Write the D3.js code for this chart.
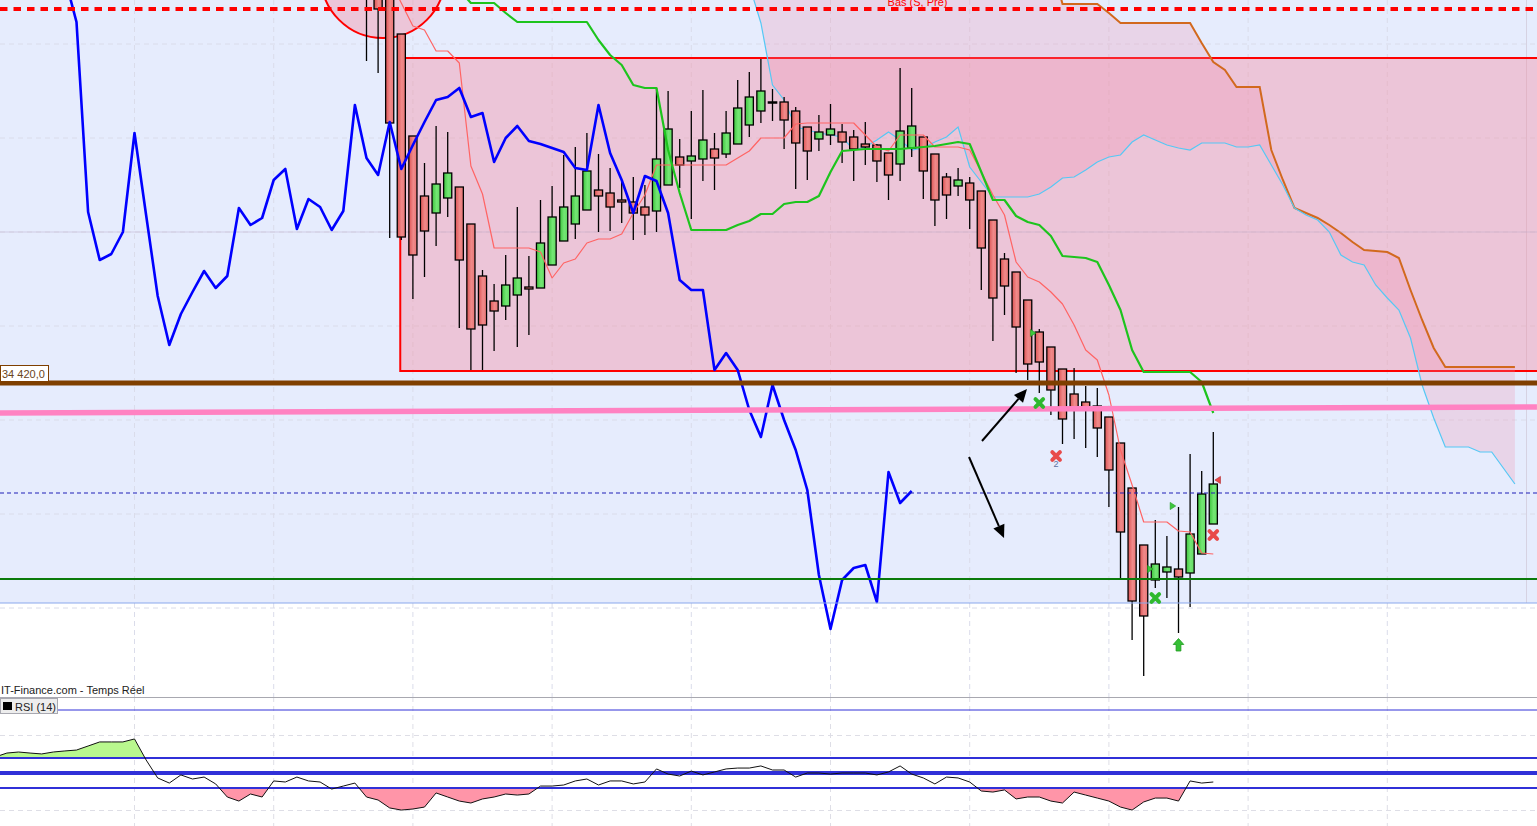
<!DOCTYPE html>
<html><head><meta charset="utf-8">
<script src="https://cdn.jsdelivr.net/npm/d3@7"></script>
<style>html,body{margin:0;padding:0;background:#fff;overflow:hidden}svg{display:block}</style>
</head><body><svg id="c" width="1537" height="826"></svg>
<script>
// ---------- DATA ----------
// candles, index 0..73
const opens  = [34843,34833,34823,34769,34667,34607,34590,34605,34616,34579, 34527,34502,34497,34508,34516,34515,34538,34562,34579,34593, 34613,34610,34603,34601,34596,34592,34618,34646,34642,34644, 34654,34649,34659,34678,34692,34701,34701,34692,34676,34664, 34668,34671,34666,34659,34658,34650,34639,34655,34666,34649, 34626,34617,34620,34612,34583,34544,34531,34503,34471,34456, 34434,34409,34401,34397,34386,34360,34315,34258,34223,34231, 34234,34230,34249,34279];
const highs  = [34863,34853,34843,34769,34667,34640,34677,34671,34616,34579, 34533,34519,34548,34596,34547,34603,34617,34648,34656,34670, 34649,34635,34623,34626,34618,34715,34712,34664,34692,34713, 34670,34692,34723,34731,34744,34714,34706,34696,34676,34688, 34699,34679,34673,34681,34659,34650,34735,34715,34666,34649, 34630,34635,34626,34612,34583,34550,34531,34503,34474,34456, 34434,34435,34417,34415,34386,34360,34315,34258,34283,34267, 34296,34349,34332,34371];
const lows   = [34742,34730,34565,34563,34504,34526,34557,34586,34475,34433, 34433,34452,34483,34456,34468,34515,34538,34562,34564,34593, 34571,34572,34580,34563,34568,34571,34618,34615,34584,34622, 34613,34645,34659,34666,34680,34682,34654,34614,34623,34652, 34658,34640,34622,34638,34621,34603,34622,34646,34604,34577, 34584,34607,34574,34513,34462,34488,34430,34423,34410,34388, 34359,34364,34355,34346,34296,34224,34163,34127,34215,34205, 34170,34196,34249,34279];
const closes = [34818,34794,34680,34566,34548,34572,34619,34630,34543,34474, 34478,34492,34518,34525,34514,34560,34586,34596,34607,34632, 34607,34596,34601,34590,34588,34644,34674,34638,34647,34663, 34645,34670,34695,34706,34712,34701,34683,34660,34652,34671, 34674,34661,34654,34656,34642,34628,34672,34677,34632,34603, 34608,34623,34603,34555,34505,34517,34476,34439,34441,34413, 34384,34393,34393,34375,34333,34271,34202,34187,34239,34236, 34226,34269,34309,34319];

// blue overlay line, index -26..47
const blueStart = -26;
const blueValues = [34825,34781,34591,34543,34549,34571,34670,34588,34507,34458, 34489,34511,34532,34515,34527,34595,34578,34585,34623,34634, 34574,34604,34596,34573,34592,34698,34645,34628,34681,34634, 34658,34681,34703,34706,34715,34686,34690,34641,34665,34677, 34662,34659,34655,34651,34635,34633,34698,34650,34623,34590, 34627,34622,34590,34523,34513,34513,34433,34450,34433,34393, 34366,34418,34383,34353,34313,34228,34174,34223,34235,34238, 34201,34331,34300,34312];

// tenkan (thin red), index 2..73
const tenkanStart = 2;
const tenkanValues = [34823,34800,34777,34773,34752,34752,34740,34637,34609,34555, 34555,34555,34555,34551,34525,34540,34544,34560,34564,34564, 34569,34590,34608,34638,34638,34638,34638,34638,34638,34638, 34645,34652,34665,34665,34665,34679,34680,34680,34680,34680, 34680,34668,34656,34652,34668,34668,34668,34656,34656,34656, 34653,34631,34608,34588,34541,34526,34521,34511,34499,34478, 34453,34443,34408,34353,34318,34281,34281,34281,34272,34271, 34250,34249];

// kijun (green), index 8..73
const kijunStart = 8;
const kijunValues = [34813,34800,34800,34800,34790,34781,34781,34781,34781,34781, 34781,34781,34763,34748,34738,34718,34715,34715,34653,34610, 34573,34573,34573,34573,34578,34582,34589,34589,34599,34601, 34601,34607,34631,34652,34653,34654,34654,34654,34654,34655, 34656,34657,34659,34661,34659,34631,34603,34603,34587,34581, 34578,34567,34547,34546,34545,34541,34518,34493,34453,34431, 34431,34431,34431,34431,34421,34390];

// cloud spans, index 33..99
const spanStart = 33;
const spanA = [34818,34780,34718,34703,34676,34673,34670,34668,34666,34653, 34656,34663,34671,34663,34653,34655,34661,34666,34676,34636, 34621,34606,34606,34606,34606,34609,34616,34625,34626,34633, 34641,34646,34648,34661,34668,34663,34658,34655,34653,34660, 34660,34660,34656,34656,34658,34638,34618,34595,34588,34583, 34571,34548,34541,34538,34518,34505,34493,34465,34418,34385, 34356,34356,34356,34351,34351,34335,34319];
const spanB = [34843,34843,34843,34843,34843,34843,34843,34843,34843,34843, 34843,34843,34843,34843,34843,34843,34843,34843,34843,34843, 34843,34843,34843,34843,34843,34843,34843,34799,34799,34799, 34799,34790,34780,34780,34780,34780,34780,34780,34780,34760, 34741,34733,34716,34716,34716,34653,34623,34595,34590,34585, 34578,34570,34561,34553,34552,34551,34545,34513,34483,34455, 34436,34436,34436,34436,34436,34436,34436];

// RSI(14), index -32..73
const rsiStart = -32;
const rsiValues = [60.7,63.3,64.0,63.3,62.7,64.0,64.7,65.3,68.0,70.7, 70.7,70.7,72.7,58.7,46.7,43.3,48.7,46.0,47.3,42.7, 34.0,31.3,36.0,34.0,44.7,44.0,47.3,44.7,44.0,39.3, 41.3,43.3,34.0,32.0,26.7,25.3,26.0,27.3,36.7,34.0, 31.3,30.0,32.7,34.0,36.0,35.3,36.0,41.3,41.3,42.0, 44.7,46.0,42.0,44.7,44.7,42.7,44.0,52.7,49.3,48.0, 51.3,48.7,50.7,52.7,53.3,53.3,54.7,52.0,52.0,47.3, 50.0,50.0,49.3,50.0,50.0,50.0,48.7,50.7,54.7,49.3, 46.7,42.7,47.3,46.7,44.0,38.0,37.3,38.7,32.7,34.0, 34.0,31.3,30.0,37.3,35.3,33.3,31.3,27.3,25.3,30.7, 33.3,33.3,31.3,44.7,43.3,44.0];
const rsiLevels = [92, 60, 50, 40];
const rsiGrid = [75, 25];

// levels / drawings
const supportLevel = 34420;        // brown line + label
const supportLabel = "34 420,0";
const lowPreLevel = 34794;         // red dashed "Bas (S, Pre)"
const lowPreLabel = "Bas (S, Pre)";
const greenLevel = 34224;
const lastPriceLevel = 34310;      // blue dashed
const zoneBottom = 34200;          // light blue zone bottom
const thinLevel = 34571;
const trendPoints = [[-31.6, 34390], [100.9, 34396]];  // pink trendline
const rectBox = {i0: 2.91, i1: 103, top: 34745, bottom: 34432};
const circleShape = {ci: 1.42, cp: 34827, edgeI: 6.77};
const arrows = [[[53.06, 34362], [56.94, 34414]], [[51.94, 34346], [54.96, 34265]]];
const crossMarks = [[58, 34400, "g"], [59.45, 34347, "r"], [68, 34205, "g"], [73, 34268, "r"]];
const upArrows = [[70, 34158]];
const triMarks = [[57.45, 34470, "gr"], [67.55, 34234, "gr"], [69.5, 34297, "gr"], [73.4, 34323, "rl"]];
const countLabels = [[59.45, 34336, "2"]];
const gridIdx = [-20, -8, 4, 16, 28, 40, 52, 64, 76, 88];
const gridPrices = [34759, 34665, 34571, 34477, 34383, 34289, 34195];
const edgeIdx = 100;

// ---------- SCALES ----------
const W = 1537, H = 826, mainBottom = 697;
const x = d3.scaleLinear().domain([0, 73]).range([366.5, 1213.3]);
const y = d3.scaleLinear().domain([34803, 34106]).range([0, mainBottom]);
const yr = d3.scaleLinear().domain([0, 100]).range([848, 698]);
const svg = d3.select('#c');
const font = "'Liberation Sans', Arial, sans-serif";

const defs = svg.append('defs');
defs.append('clipPath').attr('id', 'mainClip').append('rect').attr('x', 0).attr('y', 0).attr('width', W).attr('height', mainBottom);
defs.append('clipPath').attr('id', 'rsiClip').append('rect').attr('x', 0).attr('y', mainBottom).attr('width', W).attr('height', H - mainBottom);
function grad(id, c0, c1, c2) {
  const gr = defs.append('linearGradient').attr('id', id).attr('x1', 0).attr('x2', 1).attr('y1', 0).attr('y2', 0);
  gr.append('stop').attr('offset', '0%').attr('stop-color', c0);
  gr.append('stop').attr('offset', '55%').attr('stop-color', c1);
  gr.append('stop').attr('offset', '100%').attr('stop-color', c2);
}
grad('redG', '#DC5454', '#F08A8A', '#E87474');
grad('greenG', '#3CC43C', '#74E674', '#62DC62');

svg.append('rect').attr('width', W).attr('height', H).attr('fill', '#fff');
const g = svg.append('g').attr('clip-path', 'url(#mainClip)');

// zone background
g.append('rect').attr('x', 0).attr('y', 0).attr('width', W).attr('height', y(zoneBottom)).attr('fill', '#E6ECFD');

// grid
g.selectAll('.vg').data(gridIdx).enter().append('line')
  .attr('x1', d => x(d)).attr('x2', d => x(d)).attr('y1', 0).attr('y2', mainBottom)
  .attr('stroke', '#DADCEA').attr('stroke-dasharray', '5,4');
g.selectAll('.hg').data(gridPrices).enter().append('line')
  .attr('x1', 0).attr('x2', W).attr('y1', d => y(d)).attr('y2', d => y(d))
  .attr('stroke', '#DADCEA').attr('stroke-dasharray', '5,4');
g.append('line').attr('x1', x(edgeIdx)).attr('x2', x(edgeIdx)).attr('y1', 0).attr('y2', y(zoneBottom)).attr('stroke', '#D6D2E2');

// red rectangle
g.append('rect').attr('x', x(rectBox.i0)).attr('y', y(rectBox.top))
  .attr('width', x(rectBox.i1) - x(rectBox.i0)).attr('height', y(rectBox.bottom) - y(rectBox.top))
  .attr('fill', 'rgba(245,140,160,0.4)').attr('stroke', '#FF0000').attr('stroke-width', 2);

// circle
g.append('circle').attr('cx', x(circleShape.ci)).attr('cy', y(circleShape.cp)).attr('r', x(circleShape.edgeI) - x(circleShape.ci))
  .attr('fill', 'rgba(245,140,160,0.4)').attr('stroke', '#FF0000').attr('stroke-width', 2);

// cloud
const spanData = spanA.map((a, k) => ({i: spanStart + k, a, b: spanB[k]}));
g.append('path').datum(spanData)
  .attr('d', d3.area().x(d => x(d.i)).y0(d => y(d.a)).y1(d => y(d.b)))
  .attr('fill', 'rgba(240,140,170,0.25)');
g.append('path').datum(spanData).attr('d', d3.line().x(d => x(d.i)).y(d => y(d.b)))
  .attr('fill', 'none').attr('stroke', '#D2691E').attr('stroke-width', 2);
g.append('path').datum(spanData).attr('d', d3.line().x(d => x(d.i)).y(d => y(d.a)))
  .attr('fill', 'none').attr('stroke', '#55C8F5').attr('stroke-width', 1.2);

g.append('line').attr('x1', 0).attr('x2', W).attr('y1', y(thinLevel)).attr('y2', y(thinLevel))
  .attr('stroke', 'rgba(185,165,200,0.45)');

// candles
const candles = opens.map((o, i) => ({i, o, h: highs[i], l: lows[i], c: closes[i]}));
const bw = (x(1) - x(0)) * 0.7;
const cg = g.append('g');
cg.selectAll('.wick').data(candles).enter().append('line')
  .attr('x1', d => x(d.i)).attr('x2', d => x(d.i)).attr('y1', d => y(d.h)).attr('y2', d => y(d.l))
  .attr('stroke', '#000').attr('stroke-width', 1.3);
cg.selectAll('.body').data(candles).enter().append('rect')
  .attr('x', d => x(d.i) - bw / 2).attr('width', bw)
  .attr('y', d => y(Math.max(d.o, d.c))).attr('height', d => Math.max(1, Math.abs(y(d.o) - y(d.c))))
  .attr('fill', d => d.c > d.o ? 'url(#greenG)' : d.c < d.o ? 'url(#redG)' : '#000')
  .attr('stroke', '#000').attr('stroke-width', d => d.c === d.o ? 1.5 : 1.3);

// indicator lines
function seriesLine(start, vals, color, width) {
  const data = vals.map((v, k) => [start + k, v]);
  g.append('path').datum(data).attr('d', d3.line().x(d => x(d[0])).y(d => y(d[1])))
    .attr('fill', 'none').attr('stroke', color).attr('stroke-width', width).attr('stroke-linejoin', 'round');
}
seriesLine(tenkanStart, tenkanValues, '#FF6464', 1.2);
seriesLine(kijunStart, kijunValues, '#1DC41D', 2.2);
seriesLine(blueStart, blueValues, '#0000FF', 2.6);

// horizontal levels
g.append('line').attr('x1', 0).attr('x2', W).attr('y1', y(zoneBottom)).attr('y2', y(zoneBottom)).attr('stroke', '#8AA8EC').attr('stroke-width', 1);
g.append('line').attr('x1', 0).attr('x2', W).attr('y1', y(lastPriceLevel)).attr('y2', y(lastPriceLevel))
  .attr('stroke', '#1F1FB8').attr('stroke-width', 1.2).attr('stroke-dasharray', '4,3');
g.append('line').attr('x1', 0).attr('x2', W).attr('y1', y(greenLevel)).attr('y2', y(greenLevel)).attr('stroke', '#0A7A0A').attr('stroke-width', 2);
g.append('line').attr('x1', x(trendPoints[0][0])).attr('x2', x(trendPoints[1][0]))
  .attr('y1', y(trendPoints[0][1])).attr('y2', y(trendPoints[1][1])).attr('stroke', '#FF82C2').attr('stroke-width', 5.5);
g.append('line').attr('x1', 0).attr('x2', W).attr('y1', y(supportLevel)).attr('y2', y(supportLevel)).attr('stroke', '#7F3F00').attr('stroke-width', 5);
g.append('line').attr('x1', 0).attr('x2', W).attr('y1', y(lowPreLevel)).attr('y2', y(lowPreLevel))
  .attr('stroke', '#FF0000').attr('stroke-width', 4).attr('stroke-dasharray', '7.5,6');
g.append('text').attr('x', x(47.5)).attr('y', y(lowPreLevel) - 3).attr('text-anchor', 'middle')
  .attr('font-family', font).attr('font-size', 11).attr('fill', '#FF0000').text(lowPreLabel);

// support label
const ly = y(supportLevel);
g.append('rect').attr('x', 0.5).attr('y', ly - 17.5).attr('width', 48).attr('height', 16).attr('fill', '#fff').attr('stroke', '#7F3F00');
g.append('text').attr('x', 2).attr('y', ly - 5).attr('font-family', font).attr('font-size', 11).attr('fill', '#6A4520').text(supportLabel);

// arrows
arrows.forEach(([a, b]) => {
  const x1 = x(a[0]), y1 = y(a[1]), x2 = x(b[0]), y2 = y(b[1]);
  const ang = Math.atan2(y2 - y1, x2 - x1), L = 13, Wd = 6;
  const bx = x2 - L * Math.cos(ang), by = y2 - L * Math.sin(ang);
  g.append('line').attr('x1', x1).attr('y1', y1).attr('x2', bx).attr('y2', by).attr('stroke', '#000').attr('stroke-width', 2);
  g.append('path').attr('d', `M${x2},${y2}L${bx + Wd * Math.sin(ang)},${by - Wd * Math.cos(ang)}L${bx - Wd * Math.sin(ang)},${by + Wd * Math.cos(ang)}Z`).attr('fill', '#000');
});

// markers
crossMarks.forEach(([i, p, c]) => {
  g.append('path').attr('transform', `translate(${x(i)},${y(p)})`).attr('d', 'M-3.8,-3.8L3.8,3.8M3.8,-3.8L-3.8,3.8')
    .attr('stroke', c === 'g' ? '#2EB82E' : '#E84A4A').attr('stroke-width', 4).attr('stroke-linecap', 'round');
});
upArrows.forEach(([i, p]) => {
  g.append('path').attr('transform', `translate(${x(i)},${y(p)})`).attr('d', 'M0,-6.5L5.3,-0.5L2.4,-0.5L2.4,6L-2.4,6L-2.4,-0.5L-5.3,-0.5Z')
    .attr('fill', '#36C036').attr('stroke', '#1E9A1E').attr('stroke-width', 0.8);
});
triMarks.forEach(([i, p, t]) => {
  const d = t === 'gr' ? 'M-2.5,-3.6L3,0L-2.5,3.6Z' : 'M2.5,-3.6L-3,0L2.5,3.6Z';
  g.append('path').attr('transform', `translate(${x(i)},${y(p)})`).attr('d', d)
    .attr('fill', t === 'gr' ? '#3CC83C' : '#E84A4A').attr('stroke', t === 'gr' ? '#1E9A1E' : '#B02020').attr('stroke-width', 0.6);
});
countLabels.forEach(([i, p, s]) => {
  g.append('text').attr('x', x(i)).attr('y', y(p)).attr('text-anchor', 'middle').attr('font-family', font)
    .attr('font-size', 9).attr('fill', '#6070A0').text(s);
});

// ---------- RSI PANEL ----------
const rg = svg.append('g').attr('clip-path', 'url(#rsiClip)');
rg.selectAll('.rvg').data(gridIdx).enter().append('line')
  .attr('x1', d => x(d)).attr('x2', d => x(d)).attr('y1', mainBottom).attr('y2', H)
  .attr('stroke', '#DEDEE6').attr('stroke-dasharray', '5,4');
rg.selectAll('.rhg').data(rsiGrid).enter().append('line')
  .attr('x1', 0).attr('x2', W).attr('y1', d => yr(d)).attr('y2', d => yr(d))
  .attr('stroke', '#DEDEE6').attr('stroke-dasharray', '5,4');

function bandPoints(level, above) {
  const pts = [];
  rsiValues.forEach((v, k) => {
    const i = rsiStart + k;
    if (k > 0) {
      const pv = rsiValues[k - 1];
      if ((pv - level) * (v - level) < 0) { const t = (level - pv) / (v - pv); pts.push([i - 1 + t, level]); }
    }
    pts.push([i, above ? Math.max(v, level) : Math.min(v, level)]);
  });
  return pts;
}
const bandArea = lvl => d3.area().x(d => x(d[0])).y0(yr(lvl)).y1(d => yr(d[1]));
rg.append('path').attr('d', bandArea(60)(bandPoints(60, true))).attr('fill', '#B9F88E');
rg.append('path').attr('d', bandArea(40)(bandPoints(40, false))).attr('fill', '#FF95A8');

const lvlW = {92: 1, 60: 2.2, 50: 4, 40: 2.2};
rg.selectAll('.rl').data(rsiLevels).enter().append('line')
  .attr('x1', 0).attr('x2', W).attr('y1', d => yr(d)).attr('y2', d => yr(d))
  .attr('stroke', '#3030D8').attr('stroke-width', d => lvlW[d]);

rg.append('path').datum(rsiValues.map((v, k) => [rsiStart + k, v]))
  .attr('d', d3.line().x(d => x(d[0])).y(d => yr(d[1])))
  .attr('fill', 'none').attr('stroke', '#111').attr('stroke-width', 1);

// panel separator, captions
svg.append('line').attr('x1', 0).attr('x2', W).attr('y1', mainBottom + 0.5).attr('y2', mainBottom + 0.5).attr('stroke', '#A8A8B0');
svg.append('text').attr('x', 1).attr('y', 694).attr('font-family', font).attr('font-size', 11).attr('fill', '#222')
  .text('IT-Finance.com - Temps Réel');
svg.append('rect').attr('x', 0.5).attr('y', 698.5).attr('width', 57).attr('height', 15).attr('fill', '#EDEDED').attr('stroke', '#A8A8B0');
svg.append('rect').attr('x', 3).attr('y', 702).attr('width', 9).attr('height', 8).attr('fill', '#000');
svg.append('text').attr('x', 15).attr('y', 710.5).attr('font-family', font).attr('font-size', 11).attr('fill', '#222').text('RSI (14)');
</script></body></html>
